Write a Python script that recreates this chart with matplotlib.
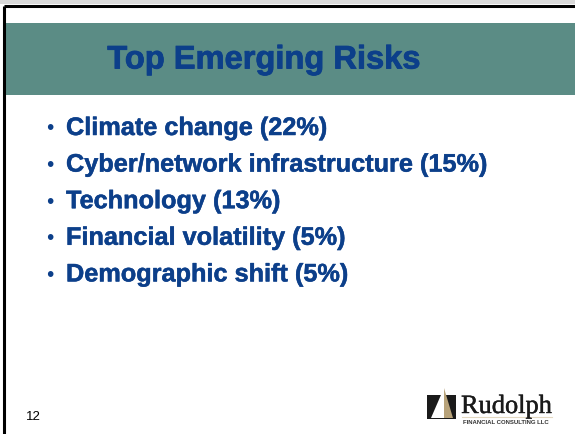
import matplotlib
matplotlib.use("Agg")
import matplotlib.pyplot as plt
import matplotlib.patheffects as pe
from matplotlib.patches import Rectangle, Polygon

# slide content
title = "Top Emerging Risks"
risks = ["Climate change", "Cyber/network infrastructure", "Technology",
         "Financial volatility", "Demographic shift"]
shares = [22, 15, 13, 5, 5]
page_no = "12"

teal = "#5b8c85"
navy = "#0c3f8a"
gold = "#b8a37a"

fig = plt.figure(figsize=(5.75, 4.35), dpi=100)
ax = fig.add_axes([0, 0, 1, 1])
ax.set_xlim(0, 575)
ax.set_ylim(435, 0)
ax.axis("off")

# slide frame
ax.add_patch(Rectangle((0, 0), 575, 5, color="#d9d9d9", lw=0))
ax.plot([3.5, 575], [6.5, 6.5], color="black", lw=2.2, solid_capstyle="butt")
ax.plot([3.5, 3.5], [6.5, 435], color="black", lw=2.2, solid_capstyle="butt")

# title band
ax.add_patch(Rectangle((5, 24), 570, 72, color=teal, lw=0))
ax.text(264, 61, title, color=navy, fontsize=23.5, fontweight="bold",
        family="Liberation Sans", ha="center", va="center",
        path_effects=[pe.withStroke(linewidth=0.6, foreground=navy)])

# bullet list
y0, dy = 129, 36.6
for i, (name, pct) in enumerate(zip(risks, shares)):
    y = y0 + i * dy
    ax.text(46, y, "\u2022", color=navy, fontsize=15, family="Liberation Sans",
            ha="left", va="center")
    ax.text(66, y, f"{name} ({pct}%)", color=navy, fontsize=18.2,
            fontweight="bold", family="Liberation Sans", ha="left", va="center",
            path_effects=[pe.withStroke(linewidth=0.35, foreground=navy)])

# page number
ax.text(26, 417, page_no, color="black", fontsize=9.5, family="Liberation Sans",
        ha="left", va="center")

# logo
ax.add_patch(Rectangle((427, 396), 29, 24, color="#1a1a1a", lw=0))
ax.add_patch(Polygon([(431, 419), (444, 389), (444, 419)], color="white", lw=0))
ax.add_patch(Polygon([(444, 389), (453, 419), (444, 419)], color=gold, lw=0))
ax.text(461, 414, "Rudolph", color="#1a1a1a", fontsize=19, family="Liberation Serif",
        ha="left", va="baseline",
        path_effects=[pe.withStroke(linewidth=0.3, foreground="#1a1a1a")])
ax.plot([462, 552], [417.5, 417.5], color="#e3d8c0", lw=0.8)
ax.text(463, 422.5, "FINANCIAL CONSULTING LLC", color="#333333", fontsize=4.3,
        fontweight="bold", family="Liberation Sans", ha="left", va="center")

fig.savefig("out.png", dpi=100)
